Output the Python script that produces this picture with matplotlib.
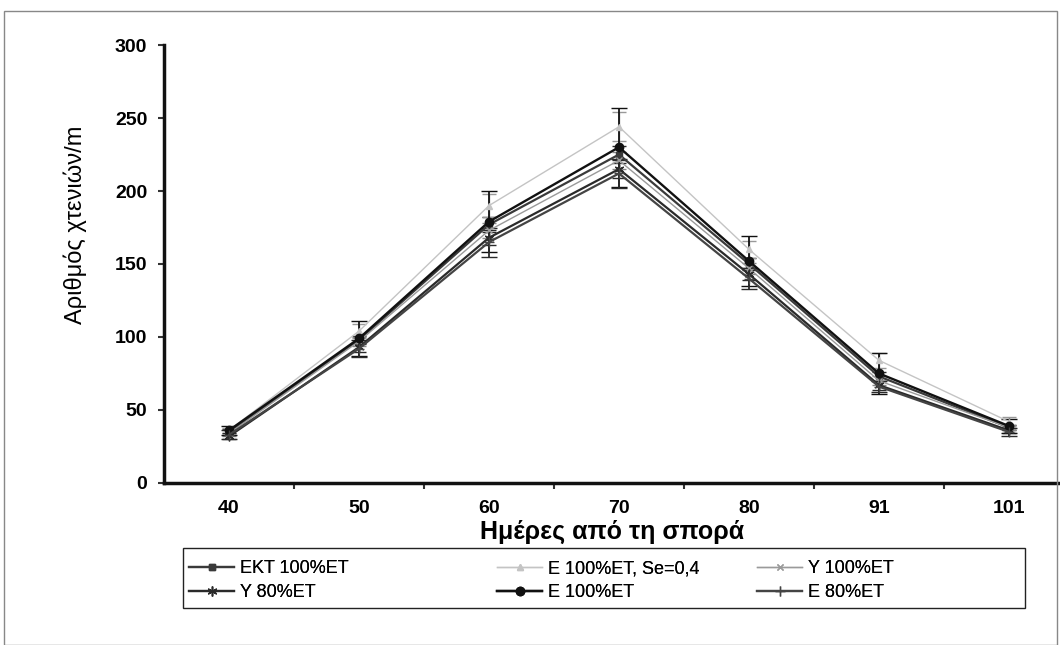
import matplotlib
matplotlib.use("Agg")
import matplotlib.pyplot as plt
from matplotlib.patches import Rectangle

plt.rcParams['font.family'] = ['Liberation Sans', 'DejaVu Sans']

days = ['40', '50', '60', '70', '80', '91', '101']

ekt_100 = [35, 98, 177, 225, 150, 73, 38]
e_100_se = [36, 104, 190, 244, 160, 84, 42]
y_100 = [34, 97, 173, 221, 147, 70, 38]
y_80 = [32, 93, 168, 215, 143, 67, 36]
e_100 = [36, 99, 179, 230, 152, 75, 39]
e_80 = [33, 92, 165, 212, 140, 66, 35]

err_e_100 = [3, 12, 21, 27, 17, 14, 5]
err_e_se = [2, 5, 8, 10, 6, 5, 3]
err_e_80 = [3, 6, 10, 10, 7, 4, 3]
err_small = [2, 3, 5, 6, 4, 3, 2]

fig = plt.figure(figsize=(10.6, 6.45), dpi=100)
ax = fig.add_axes([0.1547, 0.2512, 0.8585, 0.679])

x = list(range(len(days)))
dark = '#2a2a2a'

h_ekt = ax.errorbar(x, ekt_100, yerr=err_small, color='#3a3a3a', lw=1.6, marker='s',
                    ms=5, capsize=5, elinewidth=1.2, ecolor=dark)
h_se = ax.errorbar(x, e_100_se, yerr=err_e_se, color='#c4c4c4', lw=1.0, marker='^',
                   ms=4, capsize=5, elinewidth=1.0, ecolor='#999999')
h_y100 = ax.errorbar(x, y_100, yerr=err_small, color='#9a9a9a', lw=1.0, marker='x',
                     ms=5, capsize=5, elinewidth=1.0, ecolor='#888888')
h_y80 = ax.errorbar(x, y_80, yerr=err_small, color=dark, lw=1.6, marker=(6, 2, 0),
                    ms=7, capsize=5, elinewidth=1.2, ecolor=dark)
h_e100 = ax.errorbar(x, e_100, yerr=err_e_100, color='#111111', lw=1.7, marker='o',
                     ms=6, capsize=6, elinewidth=1.3, ecolor='#111111')
h_e80 = ax.errorbar(x, e_80, yerr=err_e_80, color='#444444', lw=1.6, marker='+',
                    ms=7, capsize=6, elinewidth=1.3, ecolor=dark)

ax.set_xlim(-0.5, len(days) - 0.5)
ax.set_ylim(0, 300)
ax.set_yticks(range(0, 301, 50))
ax.set_yticklabels([str(v) for v in range(0, 301, 50)], fontsize=14, fontweight='bold')
ax.set_xticks(x)
ax.set_xticklabels(days, fontsize=14, fontweight='bold')
ax.tick_params(axis='x', which='major', length=0, pad=12)
ax.set_xticks([i + 0.5 for i in range(len(days) - 1)], minor=True)
ax.tick_params(axis='x', which='minor', length=4, width=1.5, direction='out', color='#333333')
ax.tick_params(axis='y', length=4, width=1.5, pad=8, color='#333333')

for s in ['top', 'right']:
    ax.spines[s].set_visible(False)
for s in ['left', 'bottom']:
    ax.spines[s].set_linewidth(2.5)
    ax.spines[s].set_color('#111111')

ax.set_xlabel('Ημέρες από τη σπορά', fontsize=18, fontweight='bold', va='center')
ax.xaxis.set_label_coords(0.492, -0.112)
ax.set_ylabel('Αριθμός χτενιών/m', fontsize=17, va='center')
ax.yaxis.set_label_coords(-0.098, 0.59)

# legend: three columns placed by hand inside one frame
col_x = [189, 497, 757]
col_handles = [[h_ekt, h_y80], [h_se, h_e100], [h_y100, h_e80]]
col_labels = [['EKT 100%ET', 'Y 80%ET'], ['E 100%ET, Se=0,4', 'E 100%ET'],
              ['Y 100%ET', 'E 80%ET']]
for cx, hs, ls in zip(col_x, col_handles, col_labels):
    leg = fig.legend([h[0] for h in hs], ls, loc='upper left',
                     bbox_to_anchor=(cx / 1060, 1 - 560 / 645), frameon=False,
                     fontsize=13, handlelength=2.5, handletextpad=0.35,
                     labelspacing=0.4, borderpad=0, borderaxespad=0)
    fig.add_artist(leg)

fig.patches.append(Rectangle((183 / 1060, 1 - 608 / 645), 842 / 1060, 60 / 645,
                             transform=fig.transFigure, fill=False,
                             edgecolor='#222222', lw=1.0))
fig.patches.append(Rectangle((0.004, 0.0), 0.993, 0.983, transform=fig.transFigure,
                             fill=False, edgecolor='#888888', lw=1.0))

fig.savefig('out.png', dpi=100)
